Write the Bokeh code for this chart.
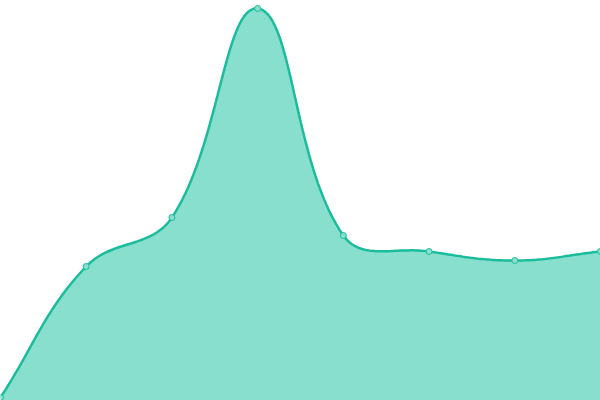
import numpy as np
from bokeh.plotting import figure
from bokeh.models import Range1d
from bokeh.embed import file_html
from bokeh.resources import INLINE

# Data
labels = ["1", "2", "3", "4", "5", "6", "7", "8"]
values = [3, 134, 183, 392, 165, 149, 140, 149]

W, H = 600, 400
Y_MAX = 400
LINE = "#1abc9c"
FILL = "#89dfce"
TENSION = 0.4

xs = np.arange(len(values), dtype=float)
ys = np.array(values, dtype=float)

# pixel-space coordinates for the spline (Chart.js style)
sx = W / (len(values) - 1)
sy = H / Y_MAX
px = xs * sx
py = ys * sy
n = len(px)
cp_prev = []
cp_next = []
for i in range(n):
    pi = max(i - 1, 0)
    ni = min(i + 1, n - 1)
    d01 = np.hypot(px[i] - px[pi], py[i] - py[pi])
    d12 = np.hypot(px[ni] - px[i], py[ni] - py[i])
    tot = d01 + d12
    s01 = d01 / tot if tot else 0
    s12 = d12 / tot if tot else 0
    fa = TENSION * s01
    fb = TENSION * s12
    dx = px[ni] - px[pi]
    dy = py[ni] - py[pi]
    cp_prev.append((np.clip(px[i] - fa * dx, 0, W), np.clip(py[i] - fa * dy, 0, H)))
    cp_next.append((np.clip(px[i] + fb * dx, 0, W), np.clip(py[i] + fb * dy, 0, H)))

cx, cy = [], []
t = np.linspace(0, 1, 40)
for i in range(n - 1):
    p0 = (px[i], py[i])
    p1 = cp_next[i]
    p2 = cp_prev[i + 1]
    p3 = (px[i + 1], py[i + 1])
    bx = (1 - t) ** 3 * p0[0] + 3 * (1 - t) ** 2 * t * p1[0] + 3 * (1 - t) * t ** 2 * p2[0] + t ** 3 * p3[0]
    by = (1 - t) ** 3 * p0[1] + 3 * (1 - t) ** 2 * t * p1[1] + 3 * (1 - t) * t ** 2 * p2[1] + t ** 3 * p3[1]
    if i > 0:
        bx, by = bx[1:], by[1:]
    cx.extend(bx / sx)
    cy.extend(by / sy)

p = figure(width=W, height=H, output_backend="svg", toolbar_location=None,
           x_range=Range1d(0, len(values) - 1), y_range=Range1d(0, Y_MAX),
           min_border=0, min_border_left=0, min_border_right=0,
           min_border_top=0, min_border_bottom=0)
p.axis.visible = False
p.grid.visible = False
p.outline_line_color = None
p.background_fill_color = "white"
p.border_fill_color = "white"

p.varea(x=cx, y1=0, y2=cy, fill_color=FILL)
p.line(x=cx, y=cy, line_color=LINE, line_width=2.5)
p.scatter(x=xs, y=ys, size=6, fill_color=FILL, line_color=LINE, line_width=1)

html = file_html(p, INLINE)
html = html.replace("<head>", "<head><style>html,body{margin:0;padding:0;overflow:hidden}</style>", 1)
open("out.html", "w").write(html)
